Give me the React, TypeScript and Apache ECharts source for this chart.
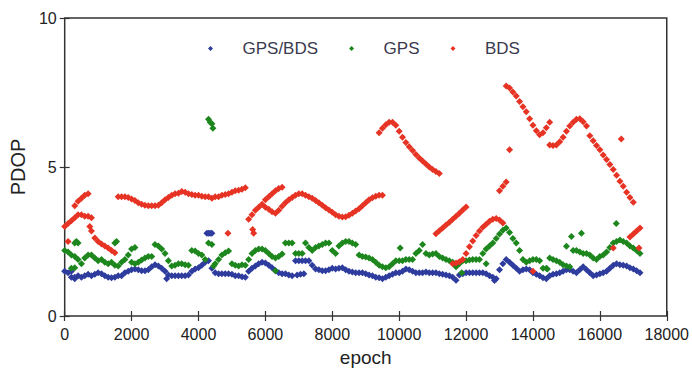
import { useEffect, useRef } from "react";
import * as echarts from "echarts";

// Sampling interval of the PDOP arrays (epochs)
const EPOCH_STEP = 100;

const X_MIN = 0;
const X_MAX = 18000;
const X_INTERVAL = 2000;
const Y_MIN = 0;
const Y_MAX = 10;
const Y_INTERVAL = 5;

const seriesNames = ["GPS/BDS", "GPS", "BDS"];
const seriesColors = ["#2e3c9e", "#1d871d", "#e63323"];

// GPS/BDS combined PDOP, one value every 100 epochs from epoch 0
const gpsBdsPdop = [
  1.5, 1.45, 1.3, 1.3, 1.35, 1.3, 1.35, 1.4, 1.35, 1.4,
  1.45, 1.42, 1.35, 1.3, 1.28, 1.3, 1.35, 1.35, 1.45, 1.5,
  1.55, 1.58, 1.55, 1.52, 1.52, 1.55, 1.65, 1.72, 1.68, 1.6,
  1.5, 1.38, 1.35, 1.35, 1.35, 1.35, 1.35, 1.38, 1.5, 1.58,
  1.62, 1.7, 1.8, 1.85, 1.6, 1.45, 1.42, 1.42, 1.42, 1.42,
  1.4, 1.35, 1.35, 1.32, 1.3, 1.5, 1.6, 1.68, 1.75, 1.8,
  1.78, 1.7, 1.62, 1.52, 1.45, 1.42, 1.42, 1.38, 1.35, 1.85,
  1.85, 1.85, 1.85, 1.85, 1.7, 1.58, 1.55, 1.52, 1.52, 1.55,
  1.6, 1.58, 1.6, 1.62, 1.55, 1.5, 1.48, 1.45, 1.45, 1.45,
  1.42, 1.38, 1.35, 1.3, 1.28, 1.25, 1.3, 1.35, 1.4, 1.45,
  1.45, 1.5, 1.58, 1.55, 1.5, 1.45, 1.45, 1.45, 1.48, 1.45,
  1.45, 1.45, 1.42, 1.4, 1.38, 1.35, 1.3, 1.2, 1.38, 1.42,
  1.45, 1.45, 1.45, 1.45, 1.45, 1.45, 1.42, 1.35, 1.3, 1.25,
  1.55, 1.75, 1.9, 1.8, 1.7, 1.6, 1.5, 1.55, 1.58, 1.55,
  1.45, 1.4, 1.35, 1.28, 1.25, 1.35, 1.4, 1.42, 1.45, 1.5,
  1.55, 1.55, 1.5, 1.45, 1.55, 1.65, 1.55, 1.45, 1.35, 1.38,
  1.42, 1.45, 1.5, 1.6, 1.7, 1.75, 1.72, 1.7, 1.68, 1.62,
  1.58, 1.52, 1.45,
];

// GPS/BDS epochs off the main trace: [epoch, PDOP]
const gpsBdsStray = [
  [4250, 2.78], [4300, 2.78], [4350, 2.78], [4400, 2.78],
  [3050, 1.25], [6950, 1.38], [7050, 1.4], [7150, 1.42], [12850, 1.19],
  [200, 1.5], [300, 1.25],
];

// GPS-only PDOP, one value every 100 epochs from epoch 0
const gpsPdop = [
  2.2, 2.15, 2.05, 2.0, 1.9, 1.75, 1.95, 2.05, 2.05, 1.95,
  1.85, 1.9, 1.8, 1.75, 1.8, 1.7, 1.68, 1.8, 1.9, 2.05,
  2.25, 2.3, 1.8, 1.88, 1.95, 2.0, 2.0, 2.4, 2.35, 2.25,
  2.1, 1.85, 1.68, 1.7, 1.75, 1.75, 1.72, 1.7, 2.2, 2.18,
  2.1, 2.05, 1.9, 2.45, 2.4, 1.75, 1.9, 2.05, 2.12, 2.18,
  1.75, 1.7, 1.68, 1.72, 1.7, 1.9, 2.1, 2.2, 2.25, 2.25,
  2.2, 2.1, 2.0, 1.95, 2.0, 2.08, 2.45, 2.45, 2.45, 2.1,
  2.1, 2.1, 2.45, 2.3, 2.2, 2.3, 2.35, 2.4, 2.45, 2.45,
  2.2, 2.1, 2.35, 2.45, 2.5, 2.5, 2.45, 2.4, 2.05, 2.0,
  1.98, 1.95, 1.9, 1.8, 1.7, 1.65, 1.62, 1.65, 1.75, 1.85,
  1.85, 1.85, 1.9, 1.9, 1.9, 2.1, 2.2, 2.4, 2.1, 2.05,
  2.08, 2.1, 2.0, 1.95, 1.9, 1.85, 1.8, 1.65, 1.75, 1.85,
  1.85, 1.88, 1.9, 1.9, 1.9, 2.1, 2.25, 2.35, 2.45, 2.6,
  2.75, 2.88, 2.95, 2.8, 2.6, 2.45, 2.2, 1.9, 1.8, 1.85,
  1.9, 1.9, 1.85, 1.6, 1.6, 1.95, 1.9, 1.85, 1.8, 1.72,
  1.68, 1.65, 2.2, 2.2, 2.15, 2.1, 2.1, 2.05, 1.95, 1.9,
  2.0, 2.05, 2.15, 2.3, 2.45, 2.5, 2.55, 2.5, 2.45, 2.35,
  2.28, 2.2, 2.1,
];

// GPS epochs off the main trace: [epoch, PDOP]
const gpsStray = [
  [4300, 6.6], [4350, 6.5], [4400, 6.45], [4430, 6.3],
  [1500, 2.45], [1550, 2.5], [300, 2.45], [350, 2.5], [400, 2.45],
  [200, 1.6], [300, 1.62], [2000, 1.8], [2100, 1.75],
  [4450, 1.68], [6300, 1.52], [10030, 2.28], [11870, 1.45], [12600, 1.75],
  [14430, 1.58], [15000, 2.34], [15150, 2.67], [15450, 2.78], [16490, 3.1],
];

// BDS-only PDOP, continuous runs sampled every 100 epochs
const bdsRunA = [3.0, 3.1, 3.2, 3.3, 3.4, 3.4, 3.35, 3.35, 3.3];
const bdsRunB = [3.7, 3.85, 3.95, 4.05, 4.1];
const bdsRunC = [2.62, 2.5, 2.42, 2.35, 2.28, 2.2, 2.12];
const bdsRunD = [
  4.0, 4.0, 4.0, 3.98, 3.93, 3.88, 3.8, 3.75, 3.72, 3.7,
  3.7, 3.7, 3.72, 3.8, 3.9, 3.98, 4.05, 4.1, 4.12, 4.18,
  4.15, 4.1, 4.08, 4.05, 4.05, 4.02, 4.0, 4.0, 3.95, 4.0,
  4.0, 4.05, 4.08, 4.1, 4.15, 4.2, 4.22, 4.25, 4.3,
];
const bdsRunE = [
  3.25, 3.4, 3.55, 3.65, 3.75, 3.65, 3.58, 3.5, 3.45, 3.55,
  3.68, 3.8, 3.9, 3.98, 4.05, 4.1, 4.1, 4.05, 4.0, 3.95,
  3.88, 3.8, 3.72, 3.63, 3.56, 3.48, 3.4, 3.35, 3.32, 3.33,
  3.38, 3.45, 3.52, 3.6, 3.7, 3.8, 3.9, 3.97, 4.02, 4.05, 4.05,
];
const bdsRunF = [3.9, 4.0, 4.1, 4.2, 4.28, 4.32];
const bdsRunG = [
  6.15, 6.3, 6.42, 6.5, 6.5, 6.4, 6.2, 6.0, 5.82, 5.68,
  5.55, 5.42, 5.3, 5.2, 5.1, 5.0, 4.92, 4.85, 4.78,
];
const bdsRunH = [2.76, 2.86, 2.95, 3.05, 3.15, 3.25, 3.35, 3.45, 3.56, 3.66];
const bdsRunI = [
  1.75, 1.78, 1.82, 1.9, 2.1, 2.32, 2.52, 2.7, 2.85,
  2.98, 3.08, 3.18, 3.25, 3.27, 3.22, 3.12,
];
const bdsRunJ = [4.2, 4.35, 4.5];
const bdsRunK = [7.72, 7.65, 7.52, 7.38, 7.2, 7.02, 6.85, 6.62, 6.4, 6.22, 6.08, 6.15, 6.32, 6.5];
const bdsRunL = [5.74, 5.72, 5.74, 5.85, 6.0, 6.2, 6.38, 6.5, 6.6, 6.62, 6.52, 6.38];
const bdsRunM = [6.05, 5.88, 5.72, 5.58, 5.4, 5.25, 5.08, 4.92, 4.72, 4.52, 4.35, 4.15, 3.98, 3.82];
const bdsRunN = [2.65, 2.75, 2.85, 2.95];

// first epoch of each BDS run
const bdsRuns: [number, number[]][] = [
  [0, bdsRunA], [300, bdsRunB], [900, bdsRunC], [1600, bdsRunD],
  [5500, bdsRunE], [6000, bdsRunF], [9400, bdsRunG], [11100, bdsRunH],
  [11600, bdsRunI], [13000, bdsRunJ], [13200, bdsRunK], [14500, bdsRunL],
  [15700, bdsRunM], [16900, bdsRunN],
];

// isolated BDS epochs: [epoch, PDOP]
const bdsStray = [
  [100, 2.5], [750, 3.0], [800, 2.85], [4880, 2.78], [5620, 2.9], [5650, 2.78],
  [13300, 5.58], [14000, 1.5], [16640, 5.94], [16400, 2.28], [17170, 2.28],
];

function runPoints(start: number, values: number[]) {
  return values.map((v, i) => [start + i * EPOCH_STEP, v]);
}

export default function App() {
  const ref = useRef<HTMLDivElement>(null);

  useEffect(() => {
    if (!ref.current) return;
    const chart = echarts.init(ref.current, undefined, { renderer: "svg" });
    const font = "'Liberation Sans', Arial, sans-serif";

    const gpsBdsData = [...runPoints(0, gpsBdsPdop), ...gpsBdsStray];
    const gpsData = [...runPoints(0, gpsPdop), ...gpsStray];
    const bdsData = [
      ...bdsRuns.flatMap(([start, vals]) => runPoints(start, vals)),
      ...bdsStray,
    ];
    const datasets = [gpsBdsData, gpsData, bdsData];

    const tickStyle = { inside: true, length: 5, lineStyle: { color: "#333", width: 1.2 } };
    const plainNumber = (v: number) => String(v);

    chart.setOption({
      animation: false,
      backgroundColor: "#fff",
      textStyle: { fontFamily: font },
      grid: {
        left: 63,
        right: 24,
        top: 18,
        bottom: 51,
        show: true,
        borderColor: "#333",
        borderWidth: 1.5,
        backgroundColor: "transparent",
      },
      legend: {
        data: seriesNames,
        left: 203,
        top: 35,
        icon: "path://M5 0L10 5L5 10L0 5Z",
        symbolKeepAspect: true,
        itemWidth: 54,
        itemHeight: 5,
        itemGap: 31,
        textStyle: { fontSize: 17, color: "#3a3a4e", fontFamily: font },
      },
      xAxis: [
        {
          type: "value",
          min: X_MIN,
          max: X_MAX,
          interval: X_INTERVAL,
          name: "epoch",
          nameLocation: "middle",
          nameGap: 32,
          nameTextStyle: { fontSize: 19, color: "#222", fontFamily: font },
          axisLine: { show: false },
          axisTick: tickStyle,
          splitLine: { show: false },
          axisLabel: { fontSize: 16, color: "#222", margin: 10, fontFamily: font, formatter: plainNumber },
        },
        {
          type: "value",
          position: "top",
          min: X_MIN,
          max: X_MAX,
          interval: X_INTERVAL,
          axisLine: { show: false },
          axisTick: tickStyle,
          splitLine: { show: false },
          axisLabel: { show: false },
        },
      ],
      yAxis: [
        {
          type: "value",
          min: Y_MIN,
          max: Y_MAX,
          interval: Y_INTERVAL,
          name: "PDOP",
          nameLocation: "middle",
          nameGap: 36,
          nameTextStyle: { fontSize: 20, color: "#222", fontFamily: font },
          axisLine: { show: false },
          axisTick: tickStyle,
          splitLine: { show: false },
          axisLabel: { fontSize: 16, color: "#222", margin: 8, fontFamily: font, formatter: plainNumber },
        },
        {
          type: "value",
          position: "right",
          min: Y_MIN,
          max: Y_MAX,
          interval: Y_INTERVAL,
          axisLine: { show: false },
          axisTick: tickStyle,
          splitLine: { show: false },
          axisLabel: { show: false },
        },
      ],
      series: seriesNames.map((name, i) => ({
        name,
        type: "scatter",
        xAxisIndex: 0,
        yAxisIndex: 0,
        symbol: "diamond",
        symbolSize: 7,
        itemStyle: { color: seriesColors[i], opacity: 1 },
        data: datasets[i],
      })),
    });

    return () => chart.dispose();
  }, []);

  return (
    <div
      ref={ref}
      style={{ position: "fixed", left: 0, top: 0, width: 692, height: 372, background: "#fff" }}
    />
  );
}
